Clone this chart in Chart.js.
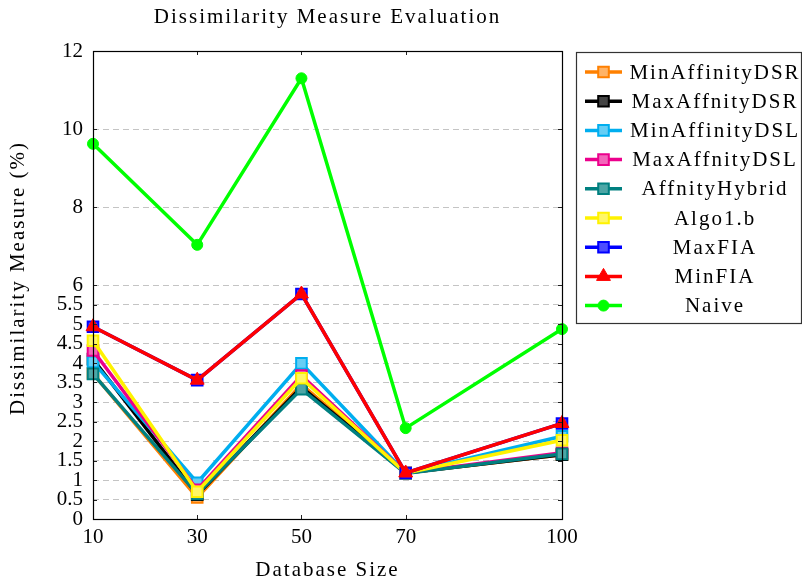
<!DOCTYPE html>
<html>
<head>
<meta charset="utf-8">
<script src="https://cdn.jsdelivr.net/npm/chart.js@4.4.1/dist/chart.umd.min.js"></script>
<style>
  html, body { margin: 0; padding: 0; background: #fff; }
  #wrap { width: 802px; height: 584px; }
</style>
</head>
<body>
<div id="wrap"><canvas id="chart"></canvas></div>
<script>
// Data
const dbSizes = [10, 30, 50, 70, 100];
const yTickValues = [0, 0.5, 1, 1.5, 2, 2.5, 3, 3.5, 4, 4.5, 5, 5.5, 6, 8, 10, 12];

const seriesNames = ["MinAffinityDSR", "MaxAffnityDSR", "MinAffinityDSL", "MaxAffnityDSL",
                     "AffnityHybrid", "Algo1.b", "MaxFIA", "MinFIA", "Naive"];
const minAffinityDSR = [3.73, 0.55, 3.45, 1.18, 1.65];
const maxAffnityDSR  = [4.10, 0.62, 3.38, 1.18, 1.65];
const minAffinityDSL = [4.03, 0.93, 3.99, 1.18, 2.12];
const maxAffnityDSL  = [4.32, 0.75, 3.68, 1.18, 1.70];
const affnityHybrid  = [3.72, 0.64, 3.33, 1.17, 1.67];
const algo1b         = [4.57, 0.70, 3.61, 1.18, 2.02];
const maxFIA         = [4.93, 3.56, 5.77, 1.18, 2.45];
const minFIA         = [4.93, 3.56, 5.77, 1.18, 2.45];
const naive          = [9.62, 7.03, 11.30, 2.33, 4.87];

const seriesValues = [minAffinityDSR, maxAffnityDSR, minAffinityDSL, maxAffnityDSL,
                      affnityHybrid, algo1b, maxFIA, minFIA, naive];
const lineColors = ["#ff8000", "#000000", "#00aeef", "#ec008c", "#008080",
                    "#fff200", "#0000ff", "#ff0000", "#00ff00"];
const fillColors = ["#ffb366", "#444444", "#66cef5", "#f366ba", "#4da6a6",
                    "#fff766", "#4d4dff", "#ff0000", "#00ff00"];
const markers = ["rect", "rect", "rect", "rect", "rect", "rect", "rect", "triangle", "circle"];

const chartTitle = "Dissimilarity Measure Evaluation";
const xTitle = "Database Size";
const yTitle = "Dissimilarity Measure (%)";

const serif = "'Liberation Serif', 'DejaVu Serif', serif";
const textFont = "21px " + serif;
const wideSpacing = "2px"; // Liberation Serif is narrower than the original's Computer Modern

const datasets = seriesNames.map((name, i) => ({
    label: name,
    data: dbSizes.map((x, j) => ({ x: x, y: seriesValues[i][j] })),
    borderColor: lineColors[i],
    backgroundColor: fillColors[i],
    pointBorderColor: lineColors[i],
    pointBackgroundColor: fillColors[i],
    pointStyle: markers[i],
    pointRadius: markers[i] === "rect" ? 7.5 : (markers[i] === "triangle" ? 8 : 5.5),
    pointBorderWidth: markers[i] === "rect" ? 2 : 1,
    borderWidth: 3.5,
    tension: 0,
    fill: false,
    clip: false,
    order: seriesNames.length - i  // later series drawn on top, as in the original
}));

// frame, inside tick marks, titles and the boxed legend on the right
const framePlugin = {
    id: "frame",
    afterDatasetsDraw(chart) {
        const { ctx, chartArea: a, scales } = chart;
        ctx.save();
        ctx.strokeStyle = "#222";
        ctx.lineWidth = 1;
        ctx.beginPath();
        yTickValues.forEach(v => {
            const y = Math.round(scales.y.getPixelForValue(v)) + 0.5;
            ctx.moveTo(a.left, y); ctx.lineTo(a.left + 4, y);
            ctx.moveTo(a.right, y); ctx.lineTo(a.right - 4, y);
        });
        dbSizes.forEach(v => {
            const x = Math.round(scales.x.getPixelForValue(v)) + 0.5;
            ctx.moveTo(x, a.bottom); ctx.lineTo(x, a.bottom - 4);
            ctx.moveTo(x, a.top); ctx.lineTo(x, a.top + 4);
        });
        ctx.stroke();
        ctx.lineWidth = 1.2;
        ctx.strokeStyle = "#000";
        ctx.strokeRect(Math.round(a.left) + 0.5, Math.round(a.top) + 0.5,
                       Math.round(a.right - a.left), Math.round(a.bottom - a.top));
        ctx.restore();
    },
    afterDraw(chart) {
        const { ctx, chartArea: a } = chart;
        const midX = (a.left + a.right) / 2;
        ctx.save();
        ctx.letterSpacing = wideSpacing;
        ctx.fillStyle = "#000";
        ctx.font = textFont;
        ctx.textAlign = "center";
        ctx.textBaseline = "middle";
        ctx.fillText(chartTitle, midX, 17);
        ctx.fillText(xTitle, midX, 570);
        ctx.save();
        ctx.translate(18, 278);
        ctx.rotate(-Math.PI / 2);
        ctx.fillText(yTitle, 0, 0);
        ctx.restore();

        // legend
        const left = a.right + 14, top = a.top + 1, w = 225, h = 271;
        ctx.strokeStyle = "#333";
        ctx.lineWidth = 1.2;
        ctx.strokeRect(left + 0.5, top + 0.5, w, h);
        chart.data.datasets.forEach((ds, i) => {
            const y = top + 20 + i * 29.2;
            ctx.strokeStyle = ds.borderColor;
            ctx.lineWidth = 3.5;
            ctx.beginPath();
            ctx.moveTo(left + 9, y);
            ctx.lineTo(left + 46, y);
            ctx.stroke();
            ctx.strokeStyle = ds.pointBorderColor;
            ctx.fillStyle = ds.pointBackgroundColor;
            ctx.lineWidth = ds.pointBorderWidth;
            Chart.helpers.drawPoint(ctx, {
                pointStyle: ds.pointStyle,
                radius: ds.pointRadius,
                borderWidth: ds.pointBorderWidth,
                rotation: 0
            }, left + 27.5, y);
            ctx.fillStyle = "#000";
            ctx.fillText(ds.label, left + 139, y + 1);
        });
        ctx.restore();
    }
};

new Chart(document.getElementById("chart"), {
    type: "line",
    data: { datasets: datasets },
    options: {
        responsive: true,
        maintainAspectRatio: false,
        animation: false,
        layout: { padding: { left: 0, right: 240, top: 51, bottom: 0 } },
        plugins: {
            legend: { display: false },
            tooltip: { enabled: false },
            title: { display: false }
        },
        scales: {
            x: {
                type: "linear",
                min: 10,
                max: 100,
                afterBuildTicks: axis => { axis.ticks = dbSizes.map(v => ({ value: v })); },
                afterFit: axis => { axis.height = 65; },
                grid: { drawOnChartArea: false, drawTicks: false },
                border: { display: false },
                ticks: { color: "#000", padding: 6, font: { family: serif, size: 21 } }
            },
            y: {
                min: 0,
                max: 12,
                afterBuildTicks: axis => { axis.ticks = yTickValues.map(v => ({ value: v })); },
                afterFit: axis => { axis.width = 93; },
                grid: {
                    drawTicks: false,
                    color: c => (c.tick && (c.tick.value === 0 || c.tick.value === 12)) ? "rgba(0,0,0,0)" : "#c4c4c4",
                    lineWidth: 1
                },
                border: { display: false, dash: [6, 4] },
                ticks: {
                    color: "#000",
                    padding: 10,
                    autoSkip: false,
                    font: { family: serif, size: 21 },
                    callback: v => String(v)
                }
            }
        }
    },
    plugins: [framePlugin]
});
</script>
</body>
</html>
